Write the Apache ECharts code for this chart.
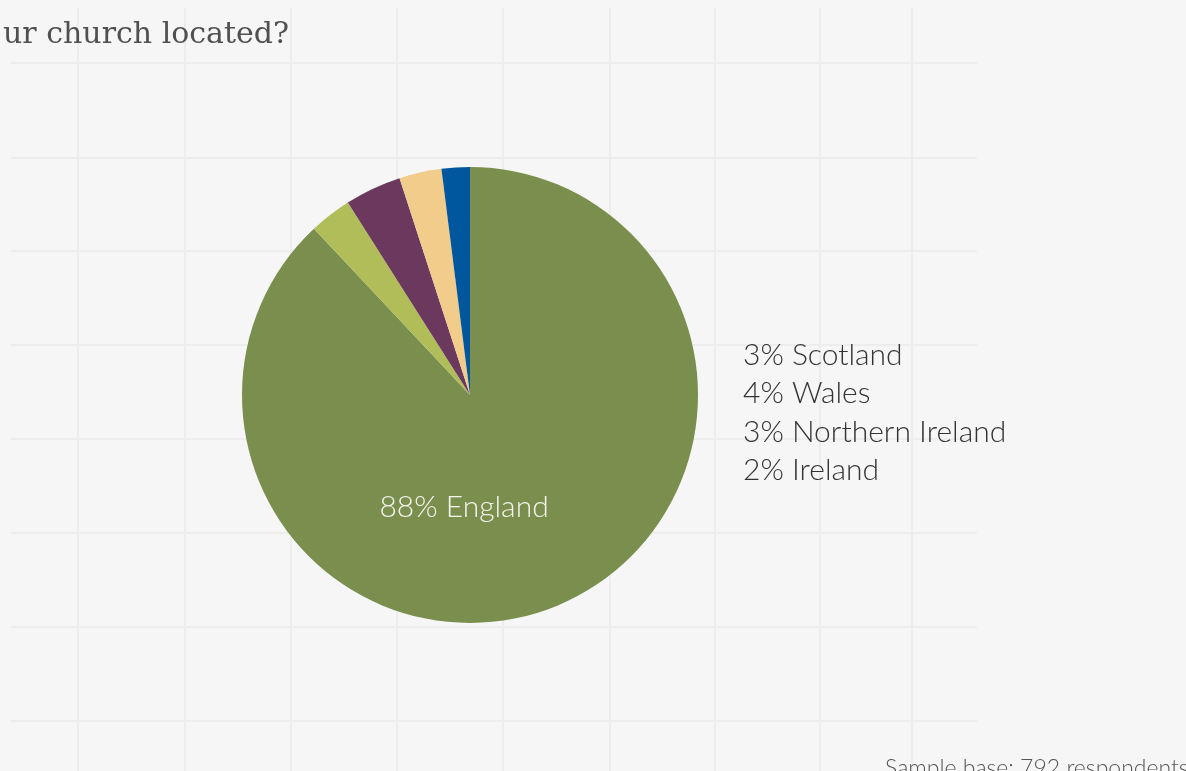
<!DOCTYPE html>
<html>
<head>
<meta charset="utf-8">
<script src="https://cdn.jsdelivr.net/npm/echarts@6/dist/echarts.min.js"></script>
<style>
  html, body { margin: 0; padding: 0; background: #f6f6f6; }
  #chart { width: 1186px; height: 771px; }
</style>
</head>
<body>
<div id="chart"></div>
<script>
// Church location shares (percent)
const regions = ['England', 'Scotland', 'Wales', 'Northern Ireland', 'Ireland'];
const shares = [88, 3, 4, 3, 2];
const sliceColors = ['#7a8e4e', '#b1bd59', '#6b385e', '#f2cc8b', '#00579d'];
const titleText = 'ur church located?';
const noteText = 'Sample base: 792 respondents';

const chart = echarts.init(document.getElementById('chart'), null, { renderer: 'canvas' });

// light background grid
const gridColor = '#ededed';
const vLines = [78, 185, 291, 397, 503, 610, 715, 820, 912];
const hLines = [63, 158, 251, 345, 439, 533, 627, 721];
const gridGraphics = [];
vLines.forEach(x => gridGraphics.push({
  type: 'line', silent: true, z: 0,
  shape: { x1: x, y1: 8, x2: x, y2: 771 },
  style: { stroke: gridColor, lineWidth: 2 }
}));
hLines.forEach(y => gridGraphics.push({
  type: 'line', silent: true, z: 0,
  shape: { x1: 11, y1: y, x2: 977, y2: y },
  style: { stroke: gridColor, lineWidth: 2 }
}));

// side list of the smaller regions
const sideLines = regions.slice(1).map((r, i) => shares[i + 1] + '% ' + r).join('\n');

const option = {
  backgroundColor: '#f6f6f6',
  animation: false,
  graphic: gridGraphics.concat([
    {
      type: 'text', left: 3, top: 20, z: 10,
      style: {
        text: titleText,
        font: 'normal 30px "DejaVu Serif", serif',
        fill: '#505050'
      }
    },
    {
      type: 'text', left: 743, top: 336, z: 10,
      style: {
        text: sideLines,
        font: '300 30px Lato, sans-serif',
        lineHeight: 38.5,
        fill: '#333333'
      }
    },
    {
      type: 'text', left: 885, top: 757, z: 10,
      style: {
        text: noteText,
        font: '300 23px Lato, sans-serif',
        fill: '#555555'
      }
    }
  ]),
  series: [{
    type: 'pie',
    center: [470, 395],
    radius: [0, 228],
    startAngle: 90,
    clockwise: true,
    silent: true,
    itemStyle: { borderWidth: 0 },
    labelLine: { show: false },
    data: regions.map((r, i) => ({
      name: r,
      value: shares[i],
      itemStyle: { color: sliceColors[i] },
      label: i === 0 ? {
        show: true,
        position: 'inside',
        offset: [-49, 4],
        formatter: p => p.value + '% ' + p.name,
        color: '#f4f4ec',
        fontFamily: 'Lato, sans-serif',
        fontWeight: 300,
        fontSize: 30
      } : { show: false }
    }))
  }]
};

chart.setOption(option);
</script>
</body>
</html>
